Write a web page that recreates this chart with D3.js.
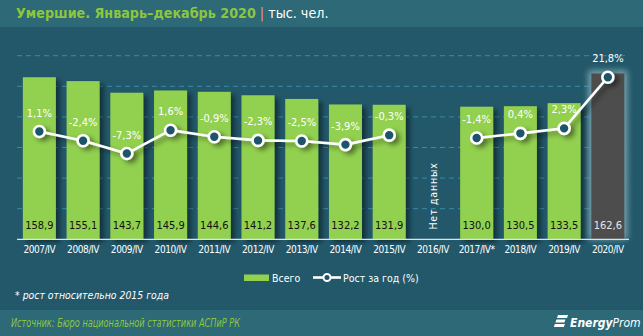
<!DOCTYPE html>
<html><head><meta charset="utf-8">
<script src="https://cdn.jsdelivr.net/npm/d3@7"></script>
<style>
html,body{margin:0;padding:0;background:#22586a;}
svg{display:block;font-family:"DejaVu Sans Condensed","DejaVu Sans","Liberation Sans",sans-serif;}
</style></head><body>
<svg id="c" width="643" height="336"></svg>
<script>
const categories = ["2007/IV","2008/IV","2009/IV","2010/IV","2011/IV","2012/IV","2013/IV","2014/IV","2015/IV","2016/IV","2017/IV*","2018/IV","2019/IV","2020/IV"];
const totals = [158.9,155.1,143.7,145.9,144.6,141.2,137.6,132.2,131.9,null,130.0,130.5,133.5,162.6];
const growth = [1.1,-2.4,-7.3,1.6,-0.9,-2.3,-2.5,-3.9,-0.3,null,-1.4,0.4,2.3,21.8];
const yTicks = [30,60,90,120,150,180];

const svg = d3.select("#c");
const W = 643, H = 336;
const fmt = v => d3.format(".1f")(v).replace(".", ",").replace("\u2212","-");

// backgrounds
svg.append("rect").attr("width",W).attr("height",H).attr("fill","#22586a");
svg.append("rect").attr("width",W).attr("height",27).attr("fill","#2d6977");
svg.append("rect").attr("y",310).attr("width",W).attr("height",26).attr("fill","#2d6977");

const defs = svg.append("defs");
const sh = defs.append("filter").attr("id","sh").attr("x","-30%").attr("y","-30%").attr("width","160%").attr("height","160%");
sh.append("feGaussianBlur").attr("in","SourceAlpha").attr("stdDeviation",2.5);
sh.append("feOffset").attr("dx",4).attr("dy",3).attr("result","b");
sh.append("feComponentTransfer").append("feFuncA").attr("type","linear").attr("slope",0.45);
const m = sh.append("feMerge"); m.append("feMergeNode"); m.append("feMergeNode").attr("in","SourceGraphic");
const gl = defs.append("filter").attr("id","gl").attr("x","-30%").attr("y","-30%").attr("width","160%").attr("height","160%");
gl.append("feGaussianBlur").attr("in","SourceGraphic").attr("stdDeviation",3);

// title
const t = svg.append("text").attr("x",16).attr("y",18).attr("font-size",14.2);
t.append("tspan").attr("fill","#8cc63f").attr("font-weight","bold").text("Умершие. Январь–декабрь 2020");
t.append("tspan").attr("fill","#e8a060").text(" | ");
t.append("tspan").attr("fill","#ffffff").text("тыс. чел.");

const x = d3.scaleBand().domain(categories).range([17.6,629.6]).paddingInner(0.245).paddingOuter(0.12);
const y = d3.scaleLinear().domain([0,180]).range([239.3,55.7]);
const y2 = d3.scaleLinear().domain([-40,30]).range([239.3,55.7]);

// gridlines
svg.append("g").selectAll("line").data(yTicks).join("line")
  .attr("x1",17).attr("x2",629).attr("y1",d=>y(d)).attr("y2",d=>y(d))
  .attr("stroke","#3a8aa6").attr("stroke-width",1).attr("stroke-dasharray","5,4");

const data = categories.map((c,i)=>({c, v: totals[i], g: growth[i], last: i===categories.length-1}));

// glow for last bar
const lastD = data[data.length-1];
svg.append("rect").attr("x",x(lastD.c)-3).attr("y",y(lastD.v)-3).attr("width",x.bandwidth()+6)
  .attr("height",y(0)-y(lastD.v)+3).attr("fill","#9fc3cc").attr("opacity",0.7).attr("filter","url(#gl)");

// bars
svg.append("g").selectAll("rect").data(data.filter(d=>d.v!=null)).join("rect")
  .attr("x",d=>x(d.c)).attr("y",d=>y(d.v)).attr("width",x.bandwidth()).attr("height",d=>y(0)-y(d.v))
  .attr("fill",d=>d.last?"#4d4d4d":"#92d050").attr("filter",d=>d.last?null:"url(#sh)");

// bar value labels
svg.append("g").selectAll("text").data(data.filter(d=>d.v!=null)).join("text")
  .attr("x",d=>x(d.c)+x.bandwidth()/2).attr("y",228.5).attr("text-anchor","middle")
  .attr("font-size",11).attr("fill",d=>d.last?"#e6e6e6":"#111").text(d=>fmt(d.v));

// no data
const nd = data.find(d=>d.v==null);
svg.append("text").attr("transform",`translate(${x(nd.c)+x.bandwidth()/2+4},196) rotate(-90)`)
  .attr("text-anchor","middle").attr("font-size",10.5).attr("letter-spacing",0.8).attr("fill","#fff").text("Нет данных");

// axis
const ax = svg.append("g").attr("transform","translate(0,239.3)").call(d3.axisBottom(x).tickSize(0).tickPadding(7));
ax.select(".domain").attr("stroke","#d9e4e8").attr("stroke-width",1.2).attr("d","M17,0H629");
ax.selectAll("text").attr("fill","#fff").attr("font-size",10).attr("font-family","'DejaVu Sans Condensed',sans-serif").attr("letter-spacing",-0.4);

// line
const cx = d => x(d.c)+x.bandwidth()/2;
const line = d3.line().defined(d=>d.g!=null).x(cx).y(d=>y2(d.g));
const lg = svg.append("g").attr("filter","url(#sh)");
lg.append("path").datum(data).attr("d",line).attr("fill","none").attr("stroke","#fff").attr("stroke-width",2.6);
lg.selectAll("circle").data(data.filter(d=>d.g!=null)).join("circle")
  .attr("cx",cx).attr("cy",d=>y2(d.g)).attr("r",5.5).attr("fill","#1d5469").attr("stroke","#fff").attr("stroke-width",2.6);

svg.append("g").selectAll("text").data(data.filter(d=>d.g!=null)).join("text")
  .attr("x",cx).attr("y",d=>y2(d.g)-15).attr("text-anchor","middle").attr("font-size",11).attr("fill","#fff")
  .text(d=>fmt(d.g)+"%");

// legend
svg.append("rect").attr("x",244).attr("y",274.5).attr("width",25).attr("height",6.5).attr("fill","#92d050");
svg.append("text").attr("x",272).attr("y",281.5).attr("font-size",10.5).attr("fill","#fff").text("Всего");
svg.append("line").attr("x1",313).attr("x2",341).attr("y1",277.5).attr("y2",277.5).attr("stroke","#fff").attr("stroke-width",2.6);
svg.append("circle").attr("cx",327).attr("cy",277.5).attr("r",3.5).attr("fill","#1d5469").attr("stroke","#fff").attr("stroke-width",2);
svg.append("text").attr("x",343).attr("y",281.5).attr("font-size",10.5).attr("fill","#fff").text("Рост за год (%)");

// footnote
svg.append("text").attr("x",15).attr("y",299).attr("font-size",10.5).attr("font-style","italic").attr("fill","#fff")
  .attr("textLength",154).attr("lengthAdjust","spacingAndGlyphs")
  .text("* рост относительно 2015 года");

// source
svg.append("text").attr("x",11).attr("y",327).attr("font-size",11.5).attr("font-style","italic").attr("fill","#8cc63f")
  .attr("textLength",229).attr("lengthAdjust","spacingAndGlyphs")
  .text("Источник: Бюро национальной  статистики АСПиР РК");

// logo
const lg2 = svg.append("g").attr("transform","translate(554,315)");
[0,4.5,9].forEach((o,i)=>lg2.append("path").attr("d",`M${4-o*0.35},${o} h${i===1?9:10} l-1,3 h-${i===1?9:10} z`).attr("fill","#fff"));
svg.append("text").attr("x",570).attr("y",327).attr("font-size",12).attr("font-style","italic").attr("fill","#fff")
  .html('<tspan font-weight="bold">Energy</tspan>Prom');
</script>
</body></html>
